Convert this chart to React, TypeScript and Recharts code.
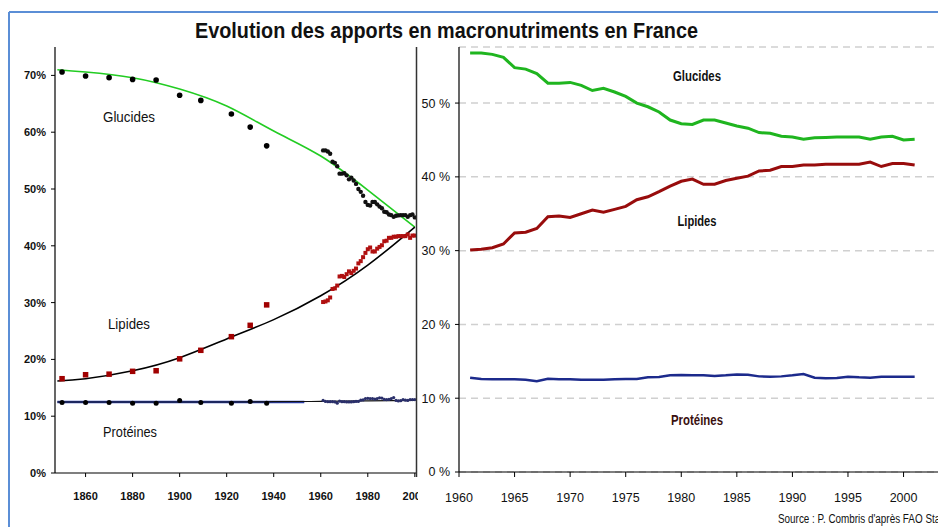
import React from 'react';
import { ComposedChart, LineChart, Line, Scatter, XAxis, YAxis, CartesianGrid } from 'recharts';

// ---------- Left panel: long-run series (1850–1937) ----------
const histYears = [1850, 1860, 1870, 1880, 1890, 1900, 1909, 1922, 1930, 1937];
const histGlucides = [70.6, 69.9, 69.6, 69.3, 69.2, 66.5, 65.6, 63.2, 60.9, 57.6];
const histLipides = [16.6, 17.3, 17.4, 17.9, 18.0, 20.1, 21.6, 24.0, 26.0, 29.6];
const histProteines = [12.4, 12.4, 12.4, 12.3, 12.3, 12.75, 12.4, 12.3, 12.6, 12.3];

// Fitted trend curves (left panel)
const trendYears = [1848, 1860, 1880, 1900, 1920, 1940, 1960, 1980, 2000];
const trendGlucides = [71.0, 70.6, 69.6, 67.6, 64.6, 60.2, 55.8, 49.8, 43.3];
const trendLipides = [16.2, 16.6, 18.0, 20.3, 23.6, 27.0, 31.2, 36.6, 43.3];
const trendProteines = [12.5, 12.5, 12.5, 12.5, 12.5, 12.55, 12.6, 12.7, 12.8];
const trendProteinesBlueYears = [1848, 1900, 1953];
const trendProteinesBlue = [12.5, 12.5, 12.5];

// ---------- Right panel: FAO series (1961–2001) ----------
const recentYears = [
  1961, 1962, 1963, 1964, 1965, 1966, 1967, 1968, 1969, 1970,
  1971, 1972, 1973, 1974, 1975, 1976, 1977, 1978, 1979, 1980,
  1981, 1982, 1983, 1984, 1985, 1986, 1987, 1988, 1989, 1990,
  1991, 1992, 1993, 1994, 1995, 1996, 1997, 1998, 1999, 2000, 2001,
];
const recentGlucides = [
  56.8, 56.8, 56.6, 56.2, 54.8, 54.6, 54.0, 52.7, 52.7, 52.8,
  52.4, 51.7, 52.0, 51.5, 50.9, 50.0, 49.5, 48.8, 47.7, 47.2,
  47.1, 47.7, 47.7, 47.3, 46.9, 46.6, 46.0, 45.9, 45.5, 45.4,
  45.1, 45.3, 45.35, 45.4, 45.4, 45.4, 45.1, 45.4, 45.5, 45.0, 45.1,
];
const recentLipides = [
  30.1, 30.2, 30.4, 30.9, 32.4, 32.5, 33.0, 34.6, 34.7, 34.5,
  35.0, 35.5, 35.2, 35.6, 36.0, 36.9, 37.3, 38.0, 38.75, 39.4,
  39.7, 39.0, 39.0, 39.5, 39.8, 40.1, 40.8, 40.9, 41.4, 41.4,
  41.6, 41.6, 41.7, 41.7, 41.7, 41.7, 42.0, 41.4, 41.8, 41.8, 41.6,
];
const recentProteines = [
  12.78, 12.6, 12.56, 12.56, 12.56, 12.51, 12.29, 12.65, 12.56, 12.56,
  12.51, 12.51, 12.51, 12.56, 12.6, 12.6, 12.83, 12.87, 13.1, 13.14,
  13.1, 13.1, 13.01, 13.1, 13.23, 13.19, 12.96, 12.92, 12.96, 13.1,
  13.28, 12.78, 12.69, 12.74, 12.92, 12.83, 12.78, 12.92, 12.92, 12.92, 12.92,
];

const leftXTicks = [1860, 1880, 1900, 1920, 1940, 1960, 1980, 2000];
const leftYTicks = [0, 10, 20, 30, 40, 50, 60, 70];
const rightXTicks = [1960, 1965, 1970, 1975, 1980, 1985, 1990, 1995, 2000];
const rightYTicks = [0, 10, 20, 30, 40, 50];

const TITLE = 'Evolution des apports en macronutriments en France';
const SOURCE = "Source : P. Combris d'après FAO Stat";

const FONT = "'Liberation Sans', Arial, sans-serif";
const NARROW = "'Liberation Sans Narrow', 'Liberation Sans', Arial, sans-serif";

const rows = (years: number[], vals: number[]) => years.map((year, i) => ({ year, v: vals[i] }));

const histG = rows(histYears, histGlucides);
const histL = rows(histYears, histLipides);
const histP = rows(histYears, histProteines);
const trendG = rows(trendYears, trendGlucides);
const trendL = rows(trendYears, trendLipides);
const trendP = rows(trendYears, trendProteines);
const trendPB = rows(trendProteinesBlueYears, trendProteinesBlue);

const recentRows = recentYears.map((year, i) => ({
  year,
  g: recentGlucides[i],
  l: recentLipides[i],
  p: recentProteines[i],
}));
const leftRecent = recentRows.filter((r) => r.year <= 2000);
const denseG = leftRecent.map((r) => ({ year: r.year, v: r.g }));
const denseL = leftRecent.map((r) => ({ year: r.year, v: r.l }));
const denseP = leftRecent.map((r) => ({ year: r.year, v: r.p }));

const circle = (r: number, fill: string) => (props: any) =>
  props.cx == null ? <g /> : <circle cx={props.cx} cy={props.cy} r={r} fill={fill} />;
const square = (s: number, fill: string) => (props: any) =>
  props.cx == null ? <g /> : <rect x={props.cx - s / 2} y={props.cy - s / 2} width={s} height={s} fill={fill} />;

export default function App() {
  return (
    <div style={{ position: 'absolute', left: 0, top: 0, width: 938, height: 527, background: '#fff', overflow: 'hidden' }}>
      <div style={{ position: 'absolute', left: 0, top: 0 }}>
        <ComposedChart width={418} height={527} margin={{ top: 47, right: 2, bottom: 24, left: 0 }}>
          <XAxis
            type="number"
            dataKey="year"
            domain={[1847, 2000.5]}
            allowDataOverflow
            ticks={leftXTicks}
            interval={0}
            height={30}
            tickSize={4}
            tickMargin={15}
            axisLine={{ stroke: '#000', strokeWidth: 1.2 }}
            tickLine={{ stroke: '#000' }}
            tick={{ fontSize: 11, fontWeight: 'bold', fill: '#111', fontFamily: FONT }}
          />
          <YAxis
            type="number"
            domain={[0, 75]}
            allowDataOverflow
            ticks={leftYTicks}
            interval={0}
            width={55}
            tickSize={4}
            tickMargin={5}
            tickFormatter={(v: number) => `${v}%`}
            axisLine={{ stroke: '#000', strokeWidth: 1.2 }}
            tickLine={{ stroke: '#000' }}
            tick={{ fontSize: 11, fontWeight: 'bold', fill: '#111', fontFamily: FONT }}
          />
          <Line data={trendPB} dataKey="v" type="linear" stroke="#2b3fb0" strokeWidth={2.5} dot={false} isAnimationActive={false} />
          <Line data={trendP} dataKey="v" type="natural" stroke="#111" strokeWidth={1.2} dot={false} isAnimationActive={false} />
          <Line data={trendG} dataKey="v" type="natural" stroke="#22cc22" strokeWidth={1.6} dot={false} isAnimationActive={false} />
          <Line data={trendL} dataKey="v" type="natural" stroke="#000" strokeWidth={1.6} dot={false} isAnimationActive={false} />
          <Scatter data={histG} dataKey="v" shape={circle(2.8, '#000')} isAnimationActive={false} />
          <Scatter data={histL} dataKey="v" shape={square(5.5, '#a00000')} isAnimationActive={false} />
          <Scatter data={histP} dataKey="v" shape={circle(2.5, '#000')} isAnimationActive={false} />
          <Scatter data={denseG} dataKey="v" shape={circle(2.2, '#111')} isAnimationActive={false} />
          <Scatter data={denseL} dataKey="v" shape={square(4, '#b01010')} isAnimationActive={false} />
          <Scatter data={denseP} dataKey="v" shape={circle(1.6, '#2a2f6a')} isAnimationActive={false} />
        </ComposedChart>
      </div>

      <div style={{ position: 'absolute', left: 418, top: 0, width: 520, height: 527, background: '#fff' }}>
        <LineChart width={520} height={527} data={recentRows} margin={{ top: 47, right: 0, bottom: 25, left: 0 }}>
          <CartesianGrid horizontal vertical={false} strokeDasharray="7 5" stroke="#d0d0d0" strokeWidth={1.5} />
          <XAxis
            type="number"
            dataKey="year"
            domain={[1960, 2003.1]}
            allowDataOverflow
            ticks={rightXTicks}
            interval={0}
            height={30}
            tickSize={5}
            tickMargin={16}
            axisLine={{ stroke: '#000', strokeWidth: 1.2 }}
            tickLine={{ stroke: '#000' }}
            tick={{ fontSize: 12.5, fill: '#111', fontFamily: FONT }}
          />
          <YAxis
            type="number"
            domain={[0, 57.6]}
            allowDataOverflow
            ticks={rightYTicks}
            interval={0}
            width={41}
            tickSize={4}
            tickMargin={5}
            tickFormatter={(v: number) => `${v} %`}
            axisLine={{ stroke: '#000', strokeWidth: 1.2 }}
            tickLine={{ stroke: '#000' }}
            tick={{ fontSize: 12.5, fill: '#111', fontFamily: FONT }}
          />
          <Line dataKey="g" type="linear" stroke="#1fb51f" strokeWidth={3} dot={false} isAnimationActive={false} />
          <Line dataKey="l" type="linear" stroke="#980c0c" strokeWidth={3} dot={false} isAnimationActive={false} />
          <Line dataKey="p" type="linear" stroke="#1c2a8c" strokeWidth={2.5} dot={false} isAnimationActive={false} />
        </LineChart>
      </div>

      <svg width={938} height={527} style={{ position: 'absolute', left: 0, top: 0, pointerEvents: 'none' }}>
        <line x1={9} y1={12} x2={938} y2={12} stroke="#5b8ed6" strokeWidth={2} />
        <line x1={9} y1={12} x2={9} y2={527} stroke="#5b8ed6" strokeWidth={2} />
        <line x1={416.5} y1={47} x2={416.5} y2={477} stroke="#333" strokeWidth={1.5} />
        <text x={446.5} y={38} textAnchor="middle" fontFamily={NARROW} fontWeight="bold" fontSize={22} fill="#111"
          textLength={503} lengthAdjust="spacingAndGlyphs">{TITLE}</text>

        <text x={129} y={122} textAnchor="middle" fontFamily={NARROW} fontSize={15.5} fill="#111" textLength={52} lengthAdjust="spacingAndGlyphs">Glucides</text>
        <text x={129} y={329} textAnchor="middle" fontFamily={NARROW} fontSize={15.5} fill="#111" textLength={42} lengthAdjust="spacingAndGlyphs">Lipides</text>
        <text x={130} y={436.5} textAnchor="middle" fontFamily={NARROW} fontSize={15.5} fill="#111" textLength={54} lengthAdjust="spacingAndGlyphs">Protéines</text>

        <text x={697} y={80.7} textAnchor="middle" fontFamily={NARROW} fontWeight="bold" fontSize={14} fill="#111" textLength={48} lengthAdjust="spacingAndGlyphs">Glucides</text>
        <text x={697} y={226} textAnchor="middle" fontFamily={NARROW} fontWeight="bold" fontSize={14} fill="#111" textLength={39} lengthAdjust="spacingAndGlyphs">Lipides</text>
        <text x={697} y={425} textAnchor="middle" fontFamily={NARROW} fontWeight="bold" fontSize={14} fill="#3a1010" textLength={52} lengthAdjust="spacingAndGlyphs">Protéines</text>

        <text x={778} y={523} fontFamily={NARROW} fontSize={12.5} fill="#111" textLength={165} lengthAdjust="spacingAndGlyphs">{SOURCE}</text>
      </svg>
    </div>
  );
}
